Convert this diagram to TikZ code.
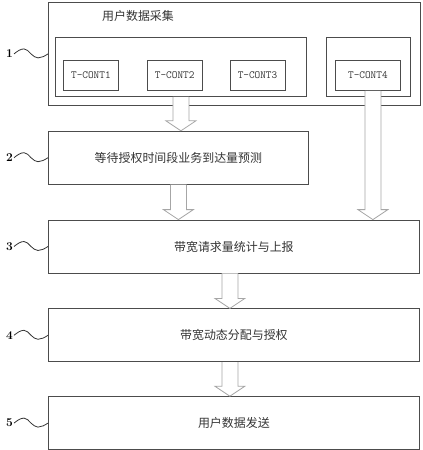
\documentclass[tikz,border=0pt]{standalone}
\usepackage{fontspec}
\newfontfamily\cjk{Noto Sans CJK SC}
\usetikzlibrary{positioning,calc}
\tikzset{
  box/.style={rectangle, draw=black!70, line width=0.8bp, minimum height=53bp, inner sep=2pt},
  stepbox/.style={box, minimum width=371bp, font=\cjk\fontsize{12}{14}\selectfont, text=black!80},
  groupbox/.style={box, minimum height=59bp},
  contbox/.style={box, minimum width=55bp, minimum height=30bp, font=\ttfamily\fontsize{11}{13}\selectfont, text=black!80},
  numlabel/.style={font=\bfseries\fontsize{12}{14}\selectfont, inner sep=0pt},
  wave/.style={draw=black!80, line width=0.8bp},
  harrow/.style={draw=black!35, fill=white, line width=0.8bp}
}
% hollow block arrow: shaft top #1, tip height taken from #2
\newcommand{\hollowarrow}[2]{%
  \filldraw[harrow] let \p1=(#1), \p2=(#2) in
    (\x1-8bp,\y1) -- (\x1-8bp,\y2+10bp) -- (\x1-15bp,\y2+10bp) -- (\x1,\y2)
    -- (\x1+15bp,\y2+10bp) -- (\x1+8bp,\y2+10bp) -- (\x1+8bp,\y1);}

\begin{document}
\begin{tikzpicture}[node distance=35bp]
\useasboundingbox (0,0) rectangle (423bp,-450bp);
% step 1: data collection
\node[box, minimum width=372bp, minimum height=103bp, anchor=north west] (b1) at (48bp,-2bp) {};
\node[font=\cjk\fontsize{12}{14}\selectfont, text=black!80] (title) at (138bp,-16bp) {用户数据采集};
\node[groupbox, minimum width=251bp, anchor=north west] (g1) at (55bp,-37bp) {};
\node[groupbox, minimum width=84bp, anchor=north west] (g2) at (326bp,-37bp) {};
\node[contbox, anchor=north west] (tc1) at (63bp,-60bp) {T-CONT1};
\node[contbox, right=28bp of tc1] (tc2) {T-CONT2};
\node[contbox, right=27bp of tc2] (tc3) {T-CONT3};
\node[contbox, minimum width=65bp, anchor=north west] (tc4) at (335bp,-60bp) {T-CONT4};
% steps 2-5
\node[stepbox, minimum width=260bp, below=25bp of b1.south west, anchor=north west] (b2) {等待授权时间段业务到达量预测};
\node[stepbox, below=35bp of b2.south west, anchor=north west] (b3) {带宽请求量统计与上报};
\node[stepbox, below=of b3] (b4) {带宽动态分配与授权};
\node[stepbox, below=34bp of b4] (b5) {用户数据发送};
% step numbers
\foreach \i in {1,...,5} {
  \node[numlabel, left=35bp of b\i.west] (n\i) {\i};
  \draw[wave] ([xshift=1bp]n\i.east) sin ++(10bp,5bp) cos ++(7bp,-5bp) sin ++(7bp,-4bp) cos ++(10bp,4bp);
}
% arrows
\hollowarrow{g1.south}{b2.north}
\hollowarrow{$(tc4.south)+(5bp,0)$}{b3.north}
\hollowarrow{b2.south}{b3.north}
\hollowarrow{$(b3.south)+(-4bp,0)$}{b4.north}
\hollowarrow{$(b4.south)+(-4bp,0)$}{b5.north}
\end{tikzpicture}
\end{document}
